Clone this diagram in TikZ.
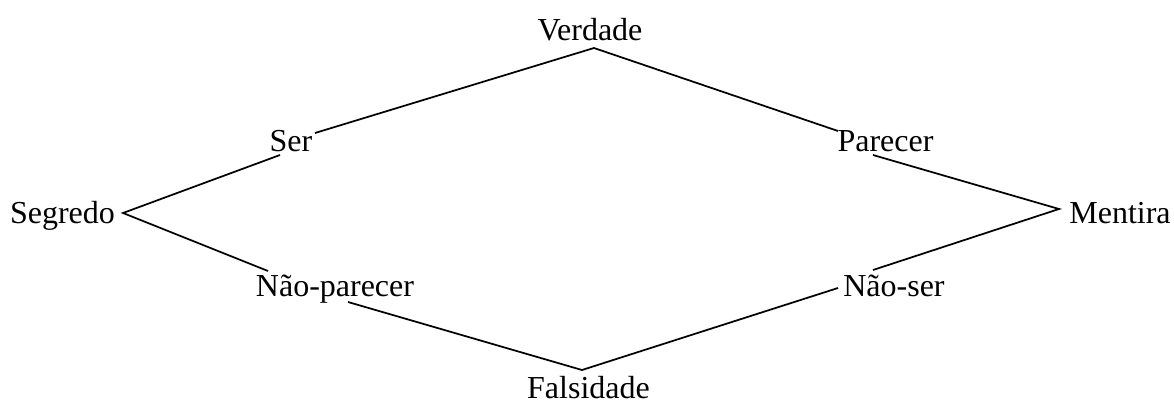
\documentclass[tikz,border=0pt]{standalone}
\usepackage{fontspec}
\setmainfont{Liberation Serif}
\begin{document}
\begin{tikzpicture}[x=0.75pt,y=-0.75pt,
  lbl/.style={anchor=base,inner sep=0pt,font=\fontsize{24}{28}\selectfont},
  edge/.style={line width=1.3pt,line join=miter}]
\useasboundingbox (0,0) rectangle (1174,407);
\node[lbl] (verdade) at (590,40) {Verdade};
\node[lbl] (ser) at (291,151) {Ser};
\node[lbl] (parecer) at (885.5,151) {Parecer};
\node[lbl] (segredo) at (62.5,223) {Segredo};
\node[lbl] (mentira) at (1120,223) {Mentira};
\node[lbl] (naoparecer) at (335,296) {Não-parecer};
\node[lbl] (naoser) at (894,296) {Não-ser};
\node[lbl] (falsidade) at (588.5,398) {Falsidade};
\coordinate (vtop) at (594,48);
\coordinate (vleft) at (123,213);
\coordinate (vright) at (1059,209);
\coordinate (vbot) at (582,370);
\coordinate (serNE) at (315,133);
\coordinate (serSW) at (280,155);
\coordinate (parNW) at (838,131);
\coordinate (parSE) at (873,155);
\coordinate (npNW) at (268,271);
\coordinate (npSE) at (348,302);
\coordinate (nsNE) at (873,270);
\coordinate (nsSW) at (838,288);
\draw[edge] (serNE) -- (vtop) -- (parNW);
\draw[edge] (serSW) -- (vleft) -- (npNW);
\draw[edge] (parSE) -- (vright) -- (nsNE);
\draw[edge] (npSE) -- (vbot) -- (nsSW);
\end{tikzpicture}
\end{document}
